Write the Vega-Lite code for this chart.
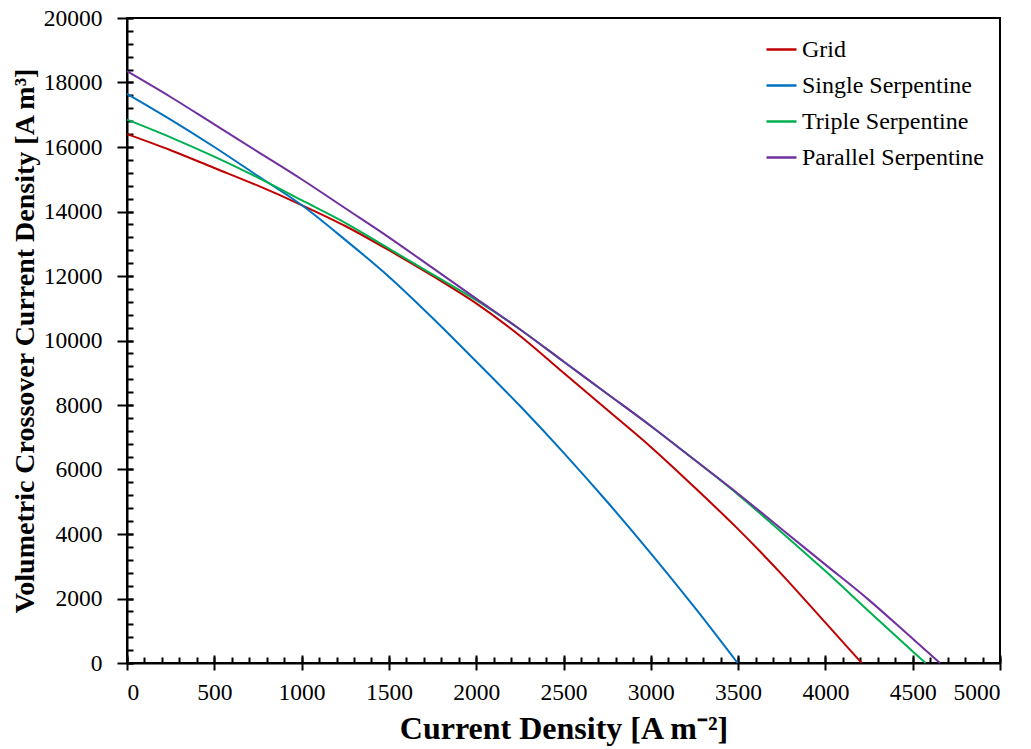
{
  "$schema": "https://vega.github.io/schema/vega-lite/v6.json",
  "width": 873,
  "height": 645,
  "autosize": {"type": "none"},
  "padding": {"left": 127, "top": 18, "right": 31, "bottom": 86},
  "background": "white",
  "config": {
    "view": {"stroke": "black", "strokeWidth": 2},
    "font": "Liberation Serif",
    "axis": {"grid": false, "labelFont": "Liberation Serif", "titleFont": "Liberation Serif", "labelColor": "black", "titleColor": "black", "domainColor": "black", "tickColor": "black", "domainWidth": 2, "tickWidth": 2}
  },
  "data": {"values": [
    {"series": "Grid", "x": 0, "y": 16400},
    {"series": "Grid", "x": 250, "y": 15900},
    {"series": "Grid", "x": 500, "y": 15350},
    {"series": "Grid", "x": 750, "y": 14800},
    {"series": "Grid", "x": 1000, "y": 14200},
    {"series": "Grid", "x": 1250, "y": 13550},
    {"series": "Grid", "x": 1500, "y": 12800},
    {"series": "Grid", "x": 1750, "y": 12000},
    {"series": "Grid", "x": 2000, "y": 11150},
    {"series": "Grid", "x": 2250, "y": 10150},
    {"series": "Grid", "x": 2500, "y": 9000},
    {"series": "Grid", "x": 2750, "y": 7850},
    {"series": "Grid", "x": 3000, "y": 6700},
    {"series": "Grid", "x": 3250, "y": 5450},
    {"series": "Grid", "x": 3500, "y": 4150},
    {"series": "Grid", "x": 3750, "y": 2750},
    {"series": "Grid", "x": 4000, "y": 1250},
    {"series": "Grid", "x": 4208, "y": 0},
    {"series": "Single Serpentine", "x": 0, "y": 17650},
    {"series": "Single Serpentine", "x": 250, "y": 16850},
    {"series": "Single Serpentine", "x": 500, "y": 16000},
    {"series": "Single Serpentine", "x": 750, "y": 15100},
    {"series": "Single Serpentine", "x": 1000, "y": 14200},
    {"series": "Single Serpentine", "x": 1250, "y": 13120},
    {"series": "Single Serpentine", "x": 1500, "y": 11980},
    {"series": "Single Serpentine", "x": 1750, "y": 10700},
    {"series": "Single Serpentine", "x": 2000, "y": 9350},
    {"series": "Single Serpentine", "x": 2250, "y": 7975},
    {"series": "Single Serpentine", "x": 2500, "y": 6525},
    {"series": "Single Serpentine", "x": 2750, "y": 5000},
    {"series": "Single Serpentine", "x": 3000, "y": 3400},
    {"series": "Single Serpentine", "x": 3250, "y": 1730},
    {"series": "Single Serpentine", "x": 3497, "y": 0},
    {"series": "Triple Serpentine", "x": 0, "y": 16850},
    {"series": "Triple Serpentine", "x": 250, "y": 16300},
    {"series": "Triple Serpentine", "x": 500, "y": 15700},
    {"series": "Triple Serpentine", "x": 750, "y": 15050},
    {"series": "Triple Serpentine", "x": 1000, "y": 14350},
    {"series": "Triple Serpentine", "x": 1250, "y": 13650},
    {"series": "Triple Serpentine", "x": 1500, "y": 12850},
    {"series": "Triple Serpentine", "x": 1750, "y": 12050},
    {"series": "Triple Serpentine", "x": 2000, "y": 11250},
    {"series": "Triple Serpentine", "x": 2250, "y": 10350},
    {"series": "Triple Serpentine", "x": 2500, "y": 9350},
    {"series": "Triple Serpentine", "x": 2750, "y": 8350},
    {"series": "Triple Serpentine", "x": 3000, "y": 7350},
    {"series": "Triple Serpentine", "x": 3250, "y": 6300},
    {"series": "Triple Serpentine", "x": 3500, "y": 5220},
    {"series": "Triple Serpentine", "x": 3750, "y": 4050},
    {"series": "Triple Serpentine", "x": 4000, "y": 2850},
    {"series": "Triple Serpentine", "x": 4250, "y": 1600},
    {"series": "Triple Serpentine", "x": 4500, "y": 360},
    {"series": "Triple Serpentine", "x": 4574, "y": 0},
    {"series": "Parallel Serpentine", "x": 0, "y": 18350},
    {"series": "Parallel Serpentine", "x": 250, "y": 17550},
    {"series": "Parallel Serpentine", "x": 500, "y": 16700},
    {"series": "Parallel Serpentine", "x": 750, "y": 15850},
    {"series": "Parallel Serpentine", "x": 1000, "y": 15000},
    {"series": "Parallel Serpentine", "x": 1250, "y": 14100},
    {"series": "Parallel Serpentine", "x": 1500, "y": 13200},
    {"series": "Parallel Serpentine", "x": 1750, "y": 12250},
    {"series": "Parallel Serpentine", "x": 2000, "y": 11300},
    {"series": "Parallel Serpentine", "x": 2250, "y": 10350},
    {"series": "Parallel Serpentine", "x": 2500, "y": 9350},
    {"series": "Parallel Serpentine", "x": 2750, "y": 8350},
    {"series": "Parallel Serpentine", "x": 3000, "y": 7350},
    {"series": "Parallel Serpentine", "x": 3250, "y": 6300},
    {"series": "Parallel Serpentine", "x": 3500, "y": 5250},
    {"series": "Parallel Serpentine", "x": 3750, "y": 4150},
    {"series": "Parallel Serpentine", "x": 4000, "y": 3050},
    {"series": "Parallel Serpentine", "x": 4250, "y": 1950},
    {"series": "Parallel Serpentine", "x": 4500, "y": 750},
    {"series": "Parallel Serpentine", "x": 4656, "y": 0}
  ]},
  "resolve": {"axis": {"x": "independent", "y": "independent"}},
  "layer": [
    {
      "mark": {"type": "point", "opacity": 0},
      "encoding": {
        "x": {"field": "x", "type": "quantitative", "scale": {"domain": [0, 5000], "nice": false},
          "axis": {"orient": "bottom", "values": [0,100,200,300,400,500,600,700,800,900,1000,1100,1200,1300,1400,1500,1600,1700,1800,1900,2000,2100,2200,2300,2400,2500,2600,2700,2800,2900,3000,3100,3200,3300,3400,3500,3600,3700,3800,3900,4000,4100,4200,4300,4400,4500,4600,4700,4800,4900,5000], "tickSize": -6, "labels": false, "domain": false, "title": null}},
        "y": {"field": "y", "type": "quantitative", "scale": {"domain": [0, 20000], "nice": false},
          "axis": {"orient": "left", "values": [0,400,800,1200,1600,2000,2400,2800,3200,3600,4000,4400,4800,5200,5600,6000,6400,6800,7200,7600,8000,8400,8800,9200,9600,10000,10400,10800,11200,11600,12000,12400,12800,13200,13600,14000,14400,14800,15200,15600,16000,16400,16800,17200,17600,18000,18400,18800,19200,19600,20000], "tickSize": -6, "labels": false, "domain": false, "title": null}}
      }
    },
    {
      "mark": {"type": "point", "opacity": 0},
      "encoding": {
        "x": {"field": "x", "type": "quantitative",
          "axis": {"orient": "bottom", "values": [0,500,1000,1500,2000,2500,3000,3500,4000,4500,5000], "tickSize": -8, "labels": false, "domain": false, "title": null}},
        "y": {"field": "y", "type": "quantitative",
          "axis": {"orient": "left", "values": [0,2000,4000,6000,8000,10000,12000,14000,16000,18000,20000], "tickSize": -6, "labels": false, "domain": false, "title": null}}
      }
    },
    {
      "mark": {"type": "line", "strokeWidth": 2, "interpolate": "monotone"},
      "encoding": {
        "x": {"field": "x", "type": "quantitative",
          "axis": {"orient": "bottom", "values": [0,500,1000,1500,2000,2500,3000,3500,4000,4500,5000], "format": "d", "tickSize": 7, "labelFontSize": 23.5, "labelPadding": 10, "title": "Current Density [A m⁻²]", "titleFontSize": 32, "titleFontWeight": "bold", "titlePadding": 10}},
        "y": {"field": "y", "type": "quantitative",
          "axis": {"orient": "left", "values": [0,2000,4000,6000,8000,10000,12000,14000,16000,18000,20000], "format": "d", "tickSize": 10, "labelFontSize": 23.5, "labelPadding": 15, "title": "Volumetric Crossover Current Density [A m³]", "titleFontSize": 28, "titleFontWeight": "bold", "titlePadding": 4}},
        "color": {"field": "series", "type": "nominal",
          "scale": {"domain": ["Grid", "Single Serpentine", "Triple Serpentine", "Parallel Serpentine"], "range": ["#C00000", "#0070C0", "#00B050", "#7030A0"]},
          "legend": {"title": null, "orient": "none", "legendX": 638, "legendY": 15, "symbolType": "stroke", "symbolSize": 900, "symbolStrokeWidth": 2.5, "labelFont": "Liberation Serif", "labelFontSize": 24, "labelColor": "black", "labelOffset": 4, "labelLimit": 0, "rowPadding": 7, "padding": 0}},
        "order": {"field": "x", "type": "quantitative"}
      }
    }
  ]
}
